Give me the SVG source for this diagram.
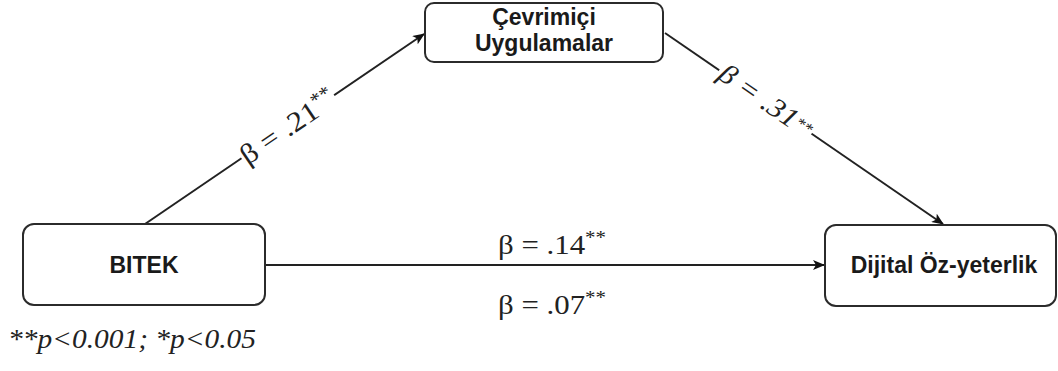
<svg xmlns="http://www.w3.org/2000/svg" width="1058" height="371" viewBox="0 0 1058 371">
<style>
.box{fill:#fff;stroke:#2b2b2b;stroke-width:2}
.nt{font-family:"Liberation Sans",Arial,sans-serif;font-weight:bold;font-size:23px;fill:#1a1a1a;text-anchor:middle}
.edge{stroke:#222;stroke-width:2;fill:none}
.lbl{font-family:"Liberation Serif","Times New Roman",serif;font-size:28px;fill:#222}
.bg{fill:#fff}
</style>
<defs>
<marker id="arr" viewBox="0 0 12 10" refX="11" refY="5" markerWidth="12" markerHeight="10" markerUnits="userSpaceOnUse" orient="auto">
<path d="M0,0 L12,5 L0,10 L3,5 Z" fill="#111"/>
</marker>
</defs>
<g id="connectors">
<line class="edge" x1="145" y1="224" x2="424" y2="34" marker-end="url(#arr)"/>
<line class="edge" x1="665" y1="33" x2="943" y2="224" marker-end="url(#arr)"/>
<line class="edge" x1="265" y1="265" x2="824" y2="265" marker-end="url(#arr)"/>
<g transform="translate(288,127) rotate(-34.3)">
<rect class="bg" x="-56" y="-15" width="112" height="30"/>
<text class="lbl" x="0" y="9" text-anchor="middle" textLength="110" lengthAdjust="spacingAndGlyphs">β = .21<tspan font-size="19" dy="-10">**</tspan></text>
</g>
<g transform="translate(766,101) rotate(34.6)">
<rect class="bg" x="-56" y="-15" width="112" height="30"/>
<text class="lbl" x="0" y="9" text-anchor="middle" font-style="italic" textLength="108" lengthAdjust="spacingAndGlyphs">β = .31<tspan font-size="16" dy="-5">**</tspan></text>
</g>
<text class="lbl" x="552" y="254" text-anchor="middle" textLength="108" lengthAdjust="spacingAndGlyphs">β = .14<tspan font-size="19" dy="-10">**</tspan></text>
<text class="lbl" x="552" y="314" text-anchor="middle" textLength="108" lengthAdjust="spacingAndGlyphs">β = .07<tspan font-size="19" dy="-10">**</tspan></text>
</g>
<g id="node-bitek">
<rect class="box" x="23" y="224" width="242" height="81" rx="11"/>
<text class="nt" x="144" y="273">BITEK</text>
</g>
<g id="node-cevrimici">
<rect class="box" x="425" y="3" width="238" height="59" rx="9"/>
<text class="nt" x="544" y="25">Çevrimiçi</text>
<text class="nt" x="544" y="51">Uygulamalar</text>
</g>
<g id="node-dijital">
<rect class="box" x="825" y="225" width="231" height="81" rx="11"/>
<text class="nt" x="944" y="273">Dijital Öz-yeterlik</text>
</g>
<text class="lbl" x="8" y="348" font-style="italic" font-size="27" textLength="248" lengthAdjust="spacingAndGlyphs">**p&lt;0.001; *p&lt;0.05</text>
</svg>
